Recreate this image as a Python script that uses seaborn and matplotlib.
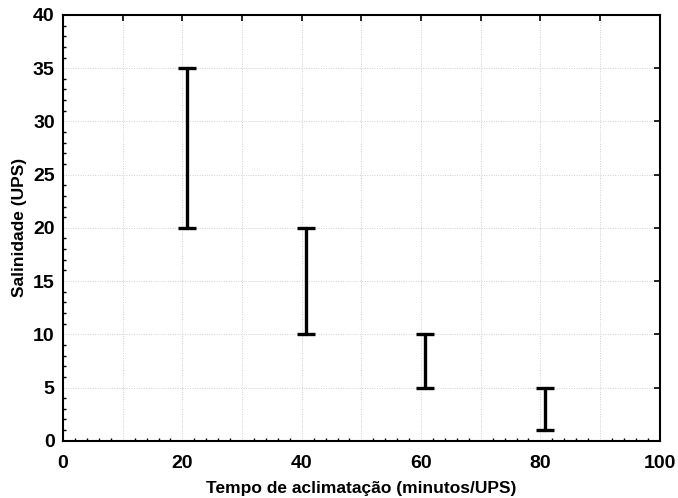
import pandas as pd
import numpy as np
import matplotlib
matplotlib.use('Agg')
import matplotlib.pyplot as plt
import seaborn as sns
from matplotlib.ticker import MultipleLocator, FuncFormatter

# acclimation time vs salinity range
tempo = [20.7, 40.7, 60.7, 80.7]
sal_min = [20, 10, 5, 1]
sal_max = [35, 20, 10, 5]

df = pd.DataFrame({
    'tempo': tempo + tempo,
    'salinidade': sal_min + sal_max,
})

sns.set_style("white")
plt.rcParams['font.family'] = ['Liberation Sans', 'DejaVu Sans']
plt.rcParams['font.weight'] = 'bold'
plt.rcParams['text.color'] = 'black'
plt.rcParams['axes.labelcolor'] = 'black'
plt.rcParams['xtick.color'] = 'black'
plt.rcParams['ytick.color'] = 'black'

fig = plt.figure(figsize=(6.78, 4.98), dpi=100)
ax = fig.add_axes([0.093, 0.115, 0.880, 0.855])

sns.lineplot(
    data=df, x='tempo', y='salinidade',
    estimator='mean', errorbar=('pi', 100), err_style='bars',
    linestyle='', color='black',
    err_kws={'capsize': 6.5, 'elinewidth': 2.4, 'capthick': 2.4},
    ax=ax,
)

ax.set_xlim(0, 100)
ax.set_ylim(0, 40)
ax.xaxis.set_major_locator(MultipleLocator(10))
ax.xaxis.set_minor_locator(MultipleLocator(2))
ax.yaxis.set_major_locator(MultipleLocator(5))
ax.yaxis.set_minor_locator(MultipleLocator(1))
ax.xaxis.set_major_formatter(FuncFormatter(lambda v, p: f"{v:.0f}" if round(v) % 20 == 0 else ""))

ax.grid(True, which='major', color='#d0d0d0', linestyle=(0, (1, 1.5)), linewidth=0.7)
ax.tick_params(which='major', direction='in', length=4, width=1.2, colors='black',
               top=True, right=True, labelsize=14)
ax.tick_params(axis='x', which='major', pad=10)
ax.tick_params(axis='y', which='major', pad=6)
ax.tick_params(which='minor', direction='in', length=2, width=1, color='black',
               bottom=True, left=True, top=False, right=False)
for s in ax.spines.values():
    s.set_color('black')
    s.set_linewidth(1.5)

ax.set_xlabel("Tempo de aclimatação (minutos/UPS)", fontsize=12.5, fontweight='bold', labelpad=6.5)
ax.set_ylabel("Salinidade (UPS)", fontsize=12.5, fontweight='bold', labelpad=4)

plt.savefig('out.png', dpi=100)
